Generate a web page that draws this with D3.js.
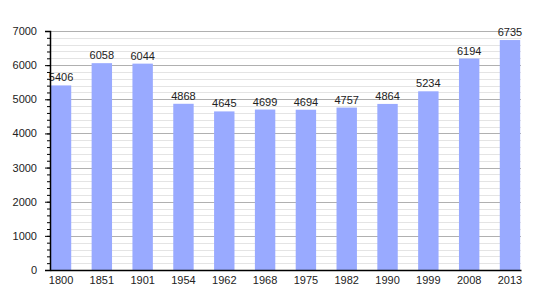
<!DOCTYPE html>
<html>
<head>
<meta charset="utf-8">
<script src="https://cdn.jsdelivr.net/npm/d3@7"></script>
<style>
body { margin:0; background:#fff; }
text { font-family: "Liberation Sans", Arial, sans-serif; fill:#222; }
</style>
</head>
<body>
<svg id="chart"></svg>
<script>
var years = ["1800","1851","1901","1954","1962","1968","1975","1982","1990","1999","2008","2013"];
var population = [5406,6058,6044,4868,4645,4699,4694,4757,4864,5234,6194,6735];
var majorTicks = [0,1000,2000,3000,4000,5000,6000,7000];

var screen = {width:550, height:300};
var margins = {left:50, right:29, top:31, bottom:30};
var graph = {
    width: screen.width - margins.left - margins.right,
    height: screen.height - margins.top - margins.bottom
};

var svg = d3.select("#chart")
    .attr("width", screen.width)
    .attr("height", screen.height);

var target = svg.append("g")
    .attr("transform", "translate(" + margins.left + "," + margins.top + ")");

var xScale = d3.scaleBand()
    .domain(years)
    .range([0, graph.width])
    .paddingInner(0.5)
    .paddingOuter(0.02);

var yScale = d3.scaleLinear()
    .domain([0, 7000])
    .range([graph.height, 0]);

var minorTicks = d3.range(0, 7001, 200);

// minor grid
target.append("g")
    .selectAll("line")
    .data(minorTicks.filter(function(t){ return t % 1000 != 0; }))
    .enter()
    .append("line")
    .attr("x1", 0)
    .attr("x2", graph.width)
    .attr("y1", function(t){ return Math.round(yScale(t)) + 0.5; })
    .attr("y2", function(t){ return Math.round(yScale(t)) + 0.5; })
    .attr("stroke", "#e4e4e4");

// major grid
target.append("g")
    .selectAll("line")
    .data(majorTicks.slice(1))
    .enter()
    .append("line")
    .attr("x1", 0)
    .attr("x2", graph.width)
    .attr("y1", function(t){ return Math.round(yScale(t)) + 0.5; })
    .attr("y2", function(t){ return Math.round(yScale(t)) + 0.5; })
    .attr("stroke", "#b0b0b0");

// bars
target.selectAll("rect")
    .data(population)
    .enter()
    .append("rect")
    .attr("x", function(d, i){ return xScale(years[i]); })
    .attr("y", function(d){ return yScale(d); })
    .attr("width", xScale.bandwidth())
    .attr("height", function(d){ return graph.height - yScale(d); })
    .attr("fill", "#99aaff");

// value labels
target.append("g")
    .selectAll("text")
    .data(population)
    .enter()
    .append("text")
    .text(function(d){ return d; })
    .attr("x", function(d, i){ return xScale(years[i]) + xScale.bandwidth()/2; })
    .attr("y", function(d){ return yScale(d) - 4; })
    .attr("text-anchor", "middle")
    .style("font-size", "11px");

// y axis minor ticks
var yMinor = d3.axisLeft(yScale).tickValues(minorTicks).tickSize(3).tickFormat("");
target.append("g")
    .call(yMinor)
    .call(function(g){ g.select(".domain").remove(); })
    .selectAll("line").attr("stroke", "#000");

var yAxis = d3.axisLeft(yScale).tickValues(majorTicks).tickSize(5).tickPadding(8).tickFormat(d3.format("d"));
var yg = target.append("g").call(yAxis);
yg.select(".domain").attr("stroke", "#000").attr("stroke-width", 1.5);
yg.selectAll("text").style("font-size", "11px").style("font-family", "Liberation Sans, Arial, sans-serif");

var xAxis = d3.axisBottom(xScale).tickSize(0).tickPadding(6);
var xg = target.append("g")
    .attr("transform", "translate(0," + graph.height + ")")
    .call(xAxis);
xg.select(".domain").attr("stroke", "#000").attr("stroke-width", 1.5);
xg.selectAll("text").style("font-size", "11px").style("font-family", "Liberation Sans, Arial, sans-serif");
</script>
</body>
</html>
